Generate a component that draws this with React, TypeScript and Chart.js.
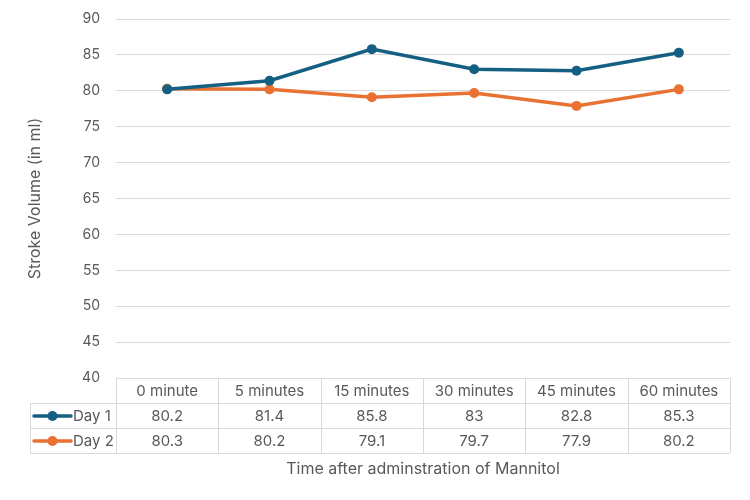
import React, { useEffect, useRef } from "react";
import { Chart, registerables } from "chart.js";

Chart.register(...registerables);

const categories = ["0 minute", "5 minutes", "15 minutes", "30 minutes", "45 minutes", "60 minutes"];
const day1 = [80.2, 81.4, 85.8, 83, 82.8, 85.3];
const day2 = [80.3, 80.2, 79.1, 79.7, 77.9, 80.2];
const seriesNames = ["Day 1", "Day 2"];
const colors = ["#156082", "#E97132"];
const yTitle = "Stroke Volume (in ml)";
const xTitle = "Time after adminstration of Mannitol";

const FONT = "Inter, 'Open Sans', sans-serif";
const TEXT = "#595959";
const GRID = "#d9d9d9";

const tablePlugin = {
  id: "dataTable",
  afterDraw(chart: any) {
    const ctx = chart.ctx;
    const x = chart.scales.x;
    const area = chart.chartArea;
    const n = categories.length;
    const step = x.getPixelForValue(1) - x.getPixelForValue(0);
    const left = x.getPixelForValue(0) - step / 2;
    const right = x.getPixelForValue(n - 1) + step / 2;
    const rowH = 25;
    const top = area.bottom;
    const legendLeft = 30;
    ctx.save();
    ctx.strokeStyle = GRID;
    ctx.lineWidth = 1;
    const hline = (y: number, x0: number, x1: number) => {
      ctx.beginPath();
      ctx.moveTo(x0, Math.round(y) + 0.5);
      ctx.lineTo(x1, Math.round(y) + 0.5);
      ctx.stroke();
    };
    const vline = (xx: number, y0: number, y1: number) => {
      ctx.beginPath();
      ctx.moveTo(Math.round(xx) + 0.5, y0);
      ctx.lineTo(Math.round(xx) + 0.5, y1);
      ctx.stroke();
    };
    hline(top, left, right);
    hline(top + rowH, legendLeft, right);
    hline(top + 2 * rowH, legendLeft, right);
    hline(top + 3 * rowH, legendLeft, right);
    for (let i = 0; i <= n; i++) {
      vline(left + i * step, top, top + 3 * rowH);
    }
    vline(legendLeft, top + rowH, top + 3 * rowH);

    ctx.fillStyle = TEXT;
    ctx.font = `15px ${FONT}`;
    ctx.textAlign = "center";
    ctx.textBaseline = "middle";
    categories.forEach((c, i) => {
      ctx.fillText(c, x.getPixelForValue(i), top + rowH / 2 + 1);
    });
    const rows = [day1, day2];
    rows.forEach((vals, r) => {
      const cy = top + rowH * (r + 1) + rowH / 2 + 1;
      vals.forEach((v, i) => {
        ctx.fillStyle = TEXT;
        ctx.textAlign = "center";
        ctx.fillText(String(v), x.getPixelForValue(i), cy);
      });
      const ly = Math.round(cy - 1);
      ctx.strokeStyle = colors[r];
      ctx.lineWidth = 3.5;
      ctx.lineCap = "round";
      ctx.beginPath();
      ctx.moveTo(34, ly);
      ctx.lineTo(71, ly);
      ctx.stroke();
      ctx.fillStyle = colors[r];
      ctx.beginPath();
      ctx.arc(52.5, ly, 5, 0, Math.PI * 2);
      ctx.fill();
      ctx.fillStyle = TEXT;
      ctx.textAlign = "left";
      ctx.fillText(seriesNames[r], 73, cy);
    });

    ctx.fillStyle = TEXT;
    ctx.font = `16px ${FONT}`;
    ctx.textAlign = "center";
    ctx.fillText(xTitle, (left + right) / 2, top + 3 * rowH + 16);
    ctx.restore();
  },
};

export default function App() {
  const ref = useRef<HTMLCanvasElement>(null);
  useEffect(() => {
    if (!ref.current) return;
    const chart = new Chart(ref.current, {
      type: "line",
      data: {
        labels: categories,
        datasets: [day1, day2].map((d, i) => ({
          label: seriesNames[i],
          data: d,
          borderColor: colors[i],
          backgroundColor: colors[i],
          borderWidth: 3.5,
          pointRadius: 5,
          pointHoverRadius: 5,
          pointBorderWidth: 0,
          pointBackgroundColor: colors[i],
          tension: 0,
        })),
      },
      options: {
        responsive: false,
        animation: false,
        layout: { padding: { left: 22, right: 20, top: 19, bottom: 122 } },
        plugins: { legend: { display: false }, tooltip: { enabled: false } },
        scales: {
          x: {
            display: false,
            offset: true,
          },
          y: {
            min: 40,
            max: 90,
            ticks: { stepSize: 5, color: TEXT, font: { family: FONT, size: 14 }, padding: 16 },
            grid: { color: GRID, drawTicks: false },
            border: { display: false },
            title: { display: true, text: yTitle, color: TEXT, font: { family: FONT, size: 16 } },
            afterFit(scale: any) {
              scale.width = 94;
              scale.paddingTop = 0;
              scale.paddingBottom = 0;
            },
          },
        },
      },
      plugins: [tablePlugin],
    });
    return () => chart.destroy();
  }, []);
  return (
    <div style={{ position: "fixed", left: 0, top: 0, width: 750, height: 500, background: "#fff" }}>
      <canvas ref={ref} width={750} height={500} style={{ width: 750, height: 500 }} />
    </div>
  );
}
